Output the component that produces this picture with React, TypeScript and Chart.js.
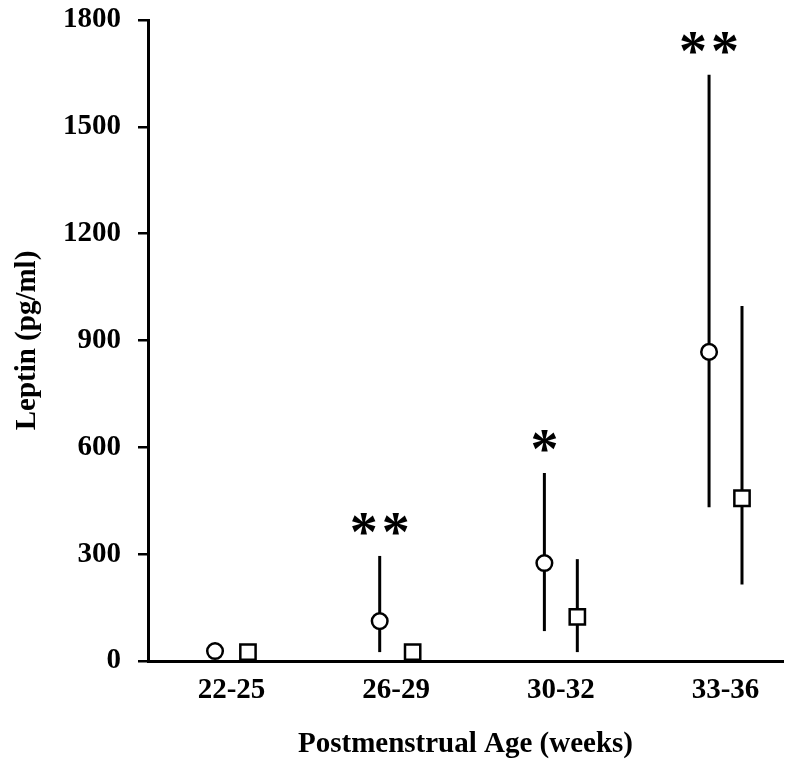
import React, { useEffect, useRef } from 'react';
import { Chart, registerables } from 'chart.js';

Chart.register(...registerables);

const categories = ['22-25', '26-29', '30-32', '33-36'];
const circleMean = [28, 112, 275, 868];
const circleLow = [28, 25, 84, 432];
const circleHigh = [28, 295, 528, 1646];
const squareMean = [25, 25, 124, 457];
const squareLow = [25, 25, 25, 215];
const squareHigh = [25, 25, 286, 997];
const significance = ['', '**', '*', '**'];
const yTicks = [0, 300, 600, 900, 1200, 1500, 1800];

const GROUP_OFFSET = 0.1;
const FONT = '"Liberation Serif", "Times New Roman", serif';

const errorBarPlugin = {
  id: 'errorBars',
  beforeDatasetsDraw(chart: any) {
    const { ctx, scales } = chart;
    const x = scales.x;
    const y = scales.y;
    ctx.save();
    ctx.strokeStyle = '#000';
    ctx.lineWidth = 3;
    chart.data.datasets.forEach((ds: any) => {
      ds.data.forEach((pt: any) => {
        if (pt.high === pt.low) return;
        const px = x.getPixelForValue(pt.x);
        ctx.beginPath();
        ctx.moveTo(px, y.getPixelForValue(pt.low));
        ctx.lineTo(px, y.getPixelForValue(pt.high));
        ctx.stroke();
      });
    });
    ctx.restore();
  },
  afterDatasetsDraw(chart: any) {
    const { ctx, scales } = chart;
    const x = scales.x;
    const y = scales.y;
    ctx.save();
    ctx.fillStyle = '#000';
    ctx.font = `bold 56px ${FONT}`;
    ctx.textAlign = 'center';
    ctx.textBaseline = 'alphabetic';
    const m = ctx.measureText('*');
    const asc = m.actualBoundingBoxAscent;
    const desc = m.actualBoundingBoxDescent;
    const step = 32;
    significance.forEach((s, i) => {
      if (!s) return;
      const px = x.getPixelForValue(i - GROUP_OFFSET);
      const top = y.getPixelForValue(circleHigh[i]);
      const centerY = top - 32;
      const baseline = centerY + (asc - desc) / 2;
      const n = s.length;
      for (let k = 0; k < n; k++) {
        const cx = px + (k - (n - 1) / 2) * step;
        ctx.fillText('*', cx, baseline);
      }
    });
    ctx.restore();
  },
};

export default function App() {
  const ref = useRef<HTMLCanvasElement | null>(null);

  useEffect(() => {
    document.body.style.margin = '0';
    const canvas = ref.current;
    if (!canvas) return;

    const circleData = categories.map((_, i) => ({
      x: i - GROUP_OFFSET,
      y: circleMean[i],
      low: circleLow[i],
      high: circleHigh[i],
    }));
    const squareData = categories.map((_, i) => ({
      x: i + GROUP_OFFSET,
      y: squareMean[i],
      low: squareLow[i],
      high: squareHigh[i],
    }));

    const tickFont = { family: FONT, size: 29, weight: 'bold' as const };

    const chart = new Chart(canvas, {
      type: 'scatter',
      data: {
        datasets: [
          {
            label: 'circle',
            data: circleData,
            pointStyle: 'circle',
            pointRadius: 7.8,
            pointHoverRadius: 7.8,
            borderWidth: 2.5,
            borderColor: '#000',
            backgroundColor: '#fff',
          },
          {
            label: 'square',
            data: squareData,
            pointStyle: 'rect',
            pointRadius: 10.8,
            pointHoverRadius: 10.8,
            borderWidth: 2.5,
            borderColor: '#000',
            backgroundColor: '#fff',
          },
        ],
      },
      options: {
        responsive: false,
        animation: false,
        events: [],
        layout: { autoPadding: false, padding: { top: 20, right: 6, left: 0, bottom: 0 } },
        plugins: {
          legend: { display: false },
          tooltip: { enabled: false },
        },
        scales: {
          x: {
            type: 'linear',
            min: -0.507,
            max: 3.349,
            afterBuildTicks: (scale: any) => {
              scale.ticks = categories.map((_, i) => ({ value: i }));
            },
            afterFit: (scale: any) => {
              scale.height = 104;
              scale.paddingLeft = 0;
              scale.paddingRight = 0;
            },
            ticks: {
              font: tickFont,
              color: '#000',
              padding: 12,
              autoSkip: false,
              maxRotation: 0,
              callback: (v: any) => categories[v] ?? '',
            },
            grid: { display: false, drawTicks: false },
            border: { display: true, color: '#000', width: 3 },
            title: {
              display: true,
              text: 'Postmenstrual Age (weeks)',
              font: tickFont,
              color: '#000',
              padding: { top: 0, bottom: 3 },
            },
          },
          y: {
            type: 'linear',
            min: 0,
            max: 1800,
            afterBuildTicks: (scale: any) => {
              scale.ticks = yTicks.map((v) => ({ value: v }));
            },
            afterFit: (scale: any) => {
              scale.width = 148;
              scale.paddingTop = 0;
              scale.paddingBottom = 0;
            },
            ticks: {
              font: tickFont,
              color: '#000',
              padding: 17,
              callback: (v: any) => String(v),
            },
            grid: {
              drawOnChartArea: false,
              drawTicks: true,
              tickLength: 10,
              color: '#000',
              lineWidth: 2.5,
            },
            border: { display: true, color: '#000', width: 3 },
            title: {
              display: true,
              text: 'Leptin (pg/ml)',
              font: tickFont,
              color: '#000',
              padding: { top: 10, bottom: 0 },
            },
          },
        },
      },
      plugins: [errorBarPlugin],
    });

    return () => chart.destroy();
  }, []);

  return <canvas ref={ref} width={789} height={765} style={{ display: 'block' }} />;
}
